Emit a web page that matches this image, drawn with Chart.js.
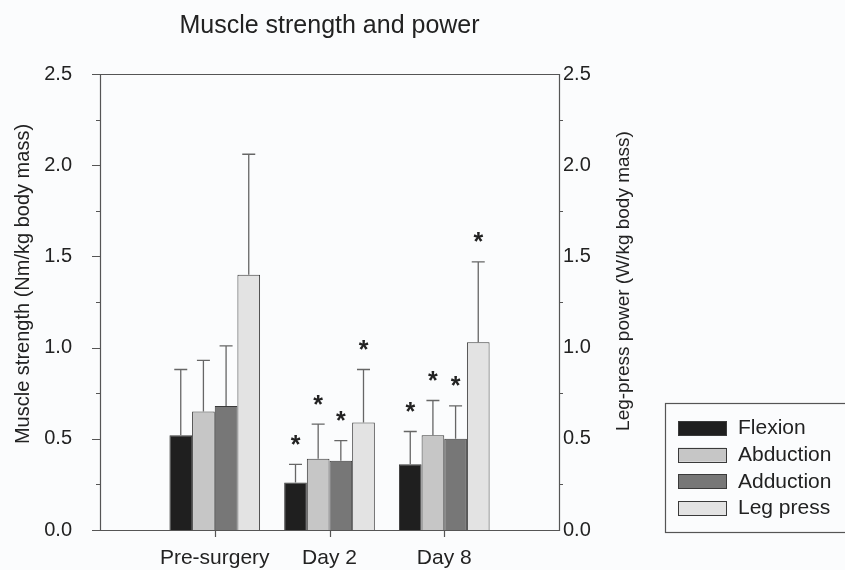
<!DOCTYPE html>
<html>
<head>
<meta charset="utf-8">
<script src="https://cdn.jsdelivr.net/npm/chart.js@4.4.1/dist/chart.umd.min.js"></script>
<style>
  html, body { margin: 0; padding: 0; background: #fbfcfd; }
  #wrap { width: 845px; height: 570px; }
</style>
</head>
<body>
<div id="wrap"><canvas id="myChart" width="845" height="570"></canvas></div>
<script>
// values
const categories = ['Pre-surgery', 'Day 2', 'Day 8'];
const seriesNames = ['Flexion', 'Abduction', 'Adduction', 'Leg press'];
const flexion = [0.52, 0.26, 0.36];
const abduction = [0.65, 0.39, 0.52];
const adduction = [0.68, 0.38, 0.50];
const legPress = [1.40, 0.59, 1.03];
const flexionErr = [0.88, 0.36, 0.54];
const abductionErr = [0.93, 0.58, 0.71];
const adductionErr = [1.01, 0.49, 0.68];
const legPressErr = [2.06, 0.88, 1.47];
const flexionSig = [false, true, true];
const abductionSig = [false, true, true];
const adductionSig = [false, true, true];
const legPressSig = [false, true, true];
const yTicks = [0, 0.5, 1.0, 1.5, 2.0, 2.5];
const yMinorTicks = [0.25, 0.75, 1.25, 1.75, 2.25];

const leftTitle = 'Muscle strength (Nm/kg body mass)';
const rightTitle = 'Leg-press power (W/kg body mass)';

const FONT = 'Arial, "Liberation Sans", sans-serif';
const TEXT = '#222';
const LINE = '#555';

function series(label, values, errs, sig, color) {
    return {
        label: label,
        data: values.map((v, i) => ({x: i + 1, y: v})),
        errTop: errs,
        sig: sig,
        backgroundColor: color,
        borderColor: '#3a3a3a',
        borderWidth: 1,
        categoryPercentage: 0.79,
        barPercentage: 1.0
    };
}

const extras = {
    id: 'extras',
    afterDatasetsDraw(chart) {
        const ctx = chart.ctx;
        const y = chart.scales.y;
        chart.data.datasets.forEach((ds, di) => {
            const meta = chart.getDatasetMeta(di);
            meta.data.forEach((bar, i) => {
                const cx = bar.x;
                const top = y.getPixelForValue(ds.errTop[i]);
                ctx.save();
                ctx.strokeStyle = '#666';
                ctx.lineWidth = 1.3;
                ctx.beginPath();
                ctx.moveTo(cx, bar.y);
                ctx.lineTo(cx, top);
                ctx.moveTo(cx - 6.5, top);
                ctx.lineTo(cx + 6.5, top);
                ctx.stroke();
                if (ds.sig[i]) {
                    ctx.fillStyle = TEXT;
                    ctx.font = 'bold 25px ' + FONT;
                    ctx.textAlign = 'center';
                    ctx.textBaseline = 'alphabetic';
                    ctx.fillText('*', cx, top - 26 + 14.3);
                }
                ctx.restore();
            });
        });
    },
    afterDraw(chart) {
        const ctx = chart.ctx;
        const a = chart.chartArea;
        const y = chart.scales.y;
        const x = chart.scales.x;
        ctx.save();
        ctx.strokeStyle = LINE;
        ctx.lineWidth = 1.2;
        ctx.beginPath();
        ctx.rect(Math.round(a.left) + 0.5, Math.round(a.top) + 0.5,
                 Math.round(a.right - a.left), Math.round(a.bottom - a.top));
        ctx.stroke();
        // left axis ticks
        ctx.beginPath();
        yTicks.forEach(v => {
            const p = Math.round(y.getPixelForValue(v)) + 0.5;
            ctx.moveTo(a.left - 8, p); ctx.lineTo(a.left, p);
        });
        yMinorTicks.forEach(v => {
            const p = Math.round(y.getPixelForValue(v)) + 0.5;
            ctx.moveTo(a.left - 4, p); ctx.lineTo(a.left, p);
            ctx.moveTo(a.right, p); ctx.lineTo(a.right + 4, p);
        });
        // category ticks
        [1, 2, 3].forEach(v => {
            const p = Math.round(x.getPixelForValue(v)) + 0.5;
            ctx.moveTo(p, a.bottom); ctx.lineTo(p, a.bottom + 7);
        });
        ctx.stroke();

        // axis titles, both read bottom to top
        ctx.fillStyle = TEXT;
        ctx.textAlign = 'center';
        ctx.textBaseline = 'middle';
        ctx.save();
        ctx.font = '20px ' + FONT;
        ctx.translate(23, 284);
        ctx.rotate(-Math.PI / 2);
        ctx.fillText(leftTitle, 0, 0);
        ctx.restore();
        ctx.save();
        ctx.font = '19px ' + FONT;
        ctx.translate(624, 281);
        ctx.rotate(-Math.PI / 2);
        ctx.fillText(rightTitle, 0, 0);
        ctx.restore();

        // legend (box runs off the right edge)
        ctx.strokeStyle = LINE;
        ctx.lineWidth = 1.2;
        ctx.strokeRect(665.5, 403.5, 200, 129);
        ctx.font = '21px ' + FONT;
        ctx.textAlign = 'left';
        chart.data.datasets.forEach((ds, i) => {
            const ry = 421 + i * 26.7;
            ctx.fillStyle = ds.backgroundColor;
            ctx.fillRect(678, ry, 48, 14);
            ctx.strokeStyle = '#3a3a3a';
            ctx.lineWidth = 1;
            ctx.strokeRect(678.5, Math.round(ry) + 0.5, 48, 14);
            ctx.fillStyle = TEXT;
            ctx.fillText(ds.label, 738, ry + 7.5);
        });
        ctx.restore();
    }
};

new Chart(document.getElementById('myChart'), {
    type: 'bar',
    data: {
        datasets: [
            series(seriesNames[0], flexion, flexionErr, flexionSig, '#1f1f1f'),
            series(seriesNames[1], abduction, abductionErr, abductionSig, '#c6c6c6'),
            series(seriesNames[2], adduction, adductionErr, adductionSig, '#777777'),
            series(seriesNames[3], legPress, legPressErr, legPressSig, '#e3e3e3')
        ]
    },
    options: {
        animation: false,
        responsive: false,
        layout: { padding: 0 },
        plugins: {
            legend: { display: false },
            tooltip: { enabled: false },
            title: {
                display: true,
                text: 'Muscle strength and power',
                fullSize: false,
                color: TEXT,
                font: { family: FONT, size: 25, weight: 'normal' },
                padding: { top: 11, bottom: 33 }
            }
        },
        scales: {
            x: {
                type: 'linear',
                min: 0,
                max: 4,
                offset: false,
                afterBuildTicks: (scale) => {
                    scale.ticks = [1, 2, 3].map(v => ({value: v}));
                },
                afterFit: (scale) => { scale.height = 39; },
                grid: { display: false, drawTicks: false },
                border: { display: false },
                ticks: {
                    autoSkip: false,
                    maxRotation: 0,
                    padding: 16,
                    color: TEXT,
                    font: { family: FONT, size: 21 },
                    callback: (v) => categories[v - 1]
                }
            },
            y: {
                type: 'linear',
                position: 'left',
                min: 0,
                max: 2.5,
                afterFit: (scale) => { scale.width = 100; },
                grid: { display: false, drawTicks: false },
                border: { display: false },
                ticks: {
                    stepSize: 0.5,
                    padding: 28,
                    color: TEXT,
                    font: { family: FONT, size: 20 },
                    callback: (v) => v.toFixed(1)
                }
            },
            y2: {
                type: 'linear',
                position: 'right',
                min: 0,
                max: 2.5,
                afterFit: (scale) => { scale.width = 286; },
                grid: { display: false, drawTicks: false },
                border: { display: false },
                ticks: {
                    stepSize: 0.5,
                    padding: 4,
                    color: TEXT,
                    font: { family: FONT, size: 20 },
                    callback: (v) => v.toFixed(1)
                }
            }
        }
    },
    plugins: [extras]
});
</script>
</body>
</html>
